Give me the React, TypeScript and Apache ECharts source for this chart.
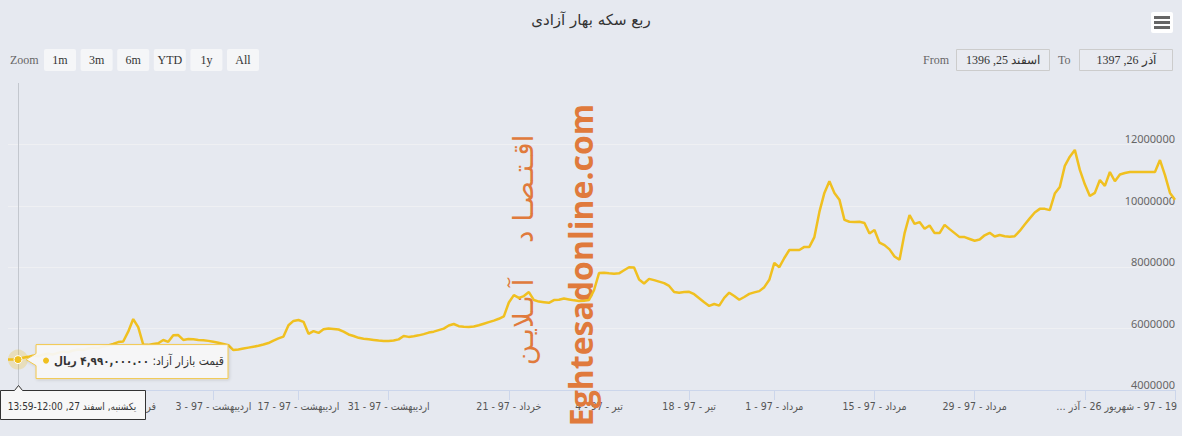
import React, { useEffect, useRef } from "react";
import * as echarts from "echarts";

const TITLE = "ربع سکه بهار آزادی";
const BG = "#e6e9f0";
const LINE = "#f0c020";

// Free-market price (rials), one value per trading day (ordinal axis)
const prices = [
  4990000, 4990000,
  4990000, 5050000, 5080000, 5120000, 5100000, 5150000, 5180000, 5160000, 5210000, 5250000,
  5230000, 5290000, 5320000, 5300000, 5350000, 5380000, 5360000, 5420000, 5450000, 5500000,
  5560000, 5580000, 5900000, 6310000, 6050000, 5480000, 5470000, 5500000, 5520000, 5630000,
  5570000, 5780000, 5790000, 5630000, 5660000, 5650000, 5630000, 5620000, 5600000, 5570000,
  5540000, 5500000, 5460000, 5300000, 5320000, 5350000, 5380000, 5410000, 5440000, 5480000,
  5530000, 5610000, 5680000, 5740000, 6110000, 6250000, 6280000, 6220000, 5830000, 5920000,
  5860000, 5980000, 6000000, 5990000, 5970000, 5900000, 5810000, 5760000, 5700000, 5670000,
  5650000, 5630000, 5610000, 5600000, 5600000, 5610000, 5650000, 5760000, 5730000, 5750000,
  5780000, 5820000, 5870000, 5900000, 5950000, 6000000, 6100000, 6150000, 6080000, 6060000,
  6050000, 6070000, 6110000, 6160000, 6210000, 6260000, 6320000, 6400000, 6850000, 7090000,
  7000000, 7060000, 7190000, 6930000, 6880000, 6860000, 6840000, 6930000, 6940000, 6980000,
  6950000, 6920000, 6900000, 6910000, 6930000, 7250000, 7810000, 7820000, 7800000, 7790000,
  7800000, 7900000, 8000000, 7990000, 7600000, 7470000, 7620000, 7580000, 7530000, 7480000,
  7390000, 7190000, 7170000, 7190000, 7200000, 7120000, 6990000, 6860000, 6740000, 6800000,
  6750000, 7000000, 7170000, 7060000, 6940000, 7030000, 7130000, 7180000, 7220000, 7350000,
  7590000, 8140000, 8000000, 8300000, 8560000, 8560000, 8560000, 8660000, 8660000, 8980000,
  9800000, 10420000, 10800000, 10420000, 10200000, 9540000, 9480000, 9470000, 9480000, 9440000,
  9100000, 9210000, 8800000, 8720000, 8580000, 8350000, 8240000, 9100000, 9700000, 9410000,
  9470000, 9250000, 9360000, 9110000, 9110000, 9380000, 9240000, 9110000, 8980000, 8980000,
  8920000, 8860000, 8900000, 9040000, 9120000, 9000000, 9050000, 9010000, 8990000, 9010000,
  9180000, 9390000, 9590000, 9780000, 9900000, 9900000, 9860000, 10400000, 10610000, 11300000,
  11600000, 11820000, 11170000, 10700000, 10320000, 10420000, 10840000, 10650000, 11100000, 10800000,
  11020000, 11070000, 11100000, 11100000, 11100000, 11100000, 11100000, 11100000, 11490000, 11000000,
  10420000, 10200000,
];

const tickIndices = [22, 41, 58, 76, 100, 118, 136, 153, 173, 193, 215, 233];
const tickLabels = [
  "فروردین - 97 - 20",
  "اردیبهشت - 97 - 3",
  "اردیبهشت - 97 - 17",
  "اردیبهشت - 97 - 31",
  "خرداد - 97 - 21",
  "تیر - 97 - 4",
  "تیر - 97 - 18",
  "مرداد - 97 - 1",
  "مرداد - 97 - 15",
  "مرداد - 97 - 29",
  "",
  "\u200F19 - 97 - شهریور 26 - آذر …\u200F",
];

const yMin = 4000000;
const yMax = 14000000;
const yStep = 2000000;

const zoomButtons = ["1m", "3m", "6m", "YTD", "1y", "All"];
const fromDate = "اسفند 25, 1396";
const toDate = "آذر 26, 1397";
const hoverIndex = 2;
const tooltipName = "\u200Fقیمت بازار آزاد:\u200F";
const tooltipValue = "\u200F۴,۹۹۰,۰۰۰.۰۰ ریال";
const tooltipDate = "یکشنبه, اسفند 27, 12:00-13:59";
const watermarkLatin = "Eghtesadonline.com";
const watermarkPersian = "اقـتـصـا د    آ نـلایـن";

const AX_FONT = "DejaVu Sans Condensed";

export default function App() {
  const ref = useRef<HTMLDivElement>(null);
  useEffect(() => {
    document.body.style.margin = "0";
    const chart = echarts.init(ref.current!, null, { renderer: "svg" });
    const categories = prices.map((_, i) => String(i));
    const labelMap = new Map<number, string>();
    tickIndices.forEach((t, k) => labelMap.set(t, tickLabels[k]));
    const lastIdx = tickIndices[tickIndices.length - 1];
    const gridTop = 83;
    const gridBottomY = 390;

    chart.setOption({
      animation: false,
      backgroundColor: BG,
      title: {
        text: TITLE,
        left: "center",
        top: 7,
        textStyle: { fontFamily: "DejaVu Sans", fontSize: 15, fontWeight: "normal", color: "#333" },
      },
      grid: { left: 8, right: 7, top: gridTop, bottom: 436 - gridBottomY, outerBoundsMode: "none" },
      xAxis: {
        type: "category",
        data: categories,
        boundaryGap: false,
        axisLine: { lineStyle: { color: "#ccd6eb", width: 1 } },
        axisTick: {
          length: 10,
          interval: (i: number) => labelMap.has(i),
          lineStyle: { color: "#ccd6eb" },
        },
        axisLabel: {
          interval: (i: number) => labelMap.has(i) && i !== lastIdx,
          formatter: (v: string) => labelMap.get(Number(v)) ?? "",
          margin: 10,
          fontFamily: AX_FONT,
          fontSize: 10.5,
          color: "#555",
        },
        splitLine: { show: false },
      },
      yAxis: {
        type: "value",
        position: "right",
        min: yMin,
        max: yMax,
        interval: yStep,
        axisLine: { show: false },
        axisTick: { show: false },
        axisLabel: {
          inside: true,
          align: "right",
          verticalAlign: "bottom",
          margin: 0,
          fontFamily: "Noto Sans",
          fontSize: 11,
          color: "#666",
          formatter: (v: number) => (v >= yMax ? "" : String(v)),
        },
        splitLine: {
          lineStyle: {
            color: ["#e6e6e6", "#eff0f3", "#eff0f3", "#eff0f3", "#eff0f3", "rgba(0,0,0,0)"],
            width: 1,
          },
        },
      },
      series: [
        {
          type: "line",
          data: prices,
          symbol: "none",
          z: 3,
          lineStyle: { color: LINE, width: 2.5 },
        },
      ],
    });

    const [px, py] = chart.convertToPixel({ seriesIndex: 0 }, [hoverIndex, prices[hoverIndex]]) as number[];
    const lastX = chart.convertToPixel({ xAxisIndex: 0 }, lastIdx) as number;
    const cx = Math.round(px) + 0.5;

    const serif = "Liberation Serif";
    const g: any[] = [];

    // watermarks
    g.push({
      type: "text", x: 580, y: 265, rotation: Math.PI / 2, z: 1,
      style: { text: watermarkLatin, fill: "#e07a3c", fontFamily: "Open Sans", fontWeight: "bold", fontSize: 32, align: "center", verticalAlign: "middle" },
    });
    g.push({
      type: "text", x: 523, y: 250, rotation: Math.PI / 2, z: 1,
      style: { text: watermarkPersian, fill: "#e07a3c", fontFamily: "DejaVu Sans", fontSize: 28, align: "center", verticalAlign: "middle" },
    });

    // range selector
    g.push({ type: "text", x: 10, y: 60, z: 10, style: { text: "Zoom", fill: "#666", fontFamily: serif, fontSize: 12, verticalAlign: "middle" } });
    zoomButtons.forEach((b, k) => {
      const bx = 44 + k * 36.6;
      g.push({ type: "rect", z: 10, shape: { x: bx, y: 49, width: 32, height: 22, r: 2 }, style: { fill: "#f5f6f8", stroke: "none" } });
      g.push({ type: "text", z: 11, x: bx + 16, y: 60, style: { text: b, fill: "#333", fontFamily: serif, fontSize: 12, align: "center", verticalAlign: "middle" } });
    });
    g.push({ type: "text", x: 923, y: 60, z: 10, style: { text: "From", fill: "#666", fontFamily: serif, fontSize: 12, verticalAlign: "middle" } });
    g.push({ type: "rect", z: 10, shape: { x: 956.5, y: 49.5, width: 93, height: 21 }, style: { fill: "rgba(255,255,255,0.12)", stroke: "#cccccc", lineWidth: 1 } });
    g.push({ type: "text", z: 11, x: 1003, y: 60, style: { text: fromDate, fill: "#333", fontFamily: serif, fontSize: 12, align: "center", verticalAlign: "middle" } });
    g.push({ type: "text", x: 1058, y: 60, z: 10, style: { text: "To", fill: "#666", fontFamily: serif, fontSize: 12, verticalAlign: "middle" } });
    g.push({ type: "rect", z: 10, shape: { x: 1079.5, y: 49.5, width: 93, height: 21 }, style: { fill: "rgba(255,255,255,0.12)", stroke: "#cccccc", lineWidth: 1 } });
    g.push({ type: "text", z: 11, x: 1126, y: 60, style: { text: toDate, fill: "#333", fontFamily: serif, fontSize: 12, align: "center", verticalAlign: "middle" } });

    // context menu button
    g.push({ type: "rect", z: 10, shape: { x: 1151, y: 12, width: 22, height: 21, r: 2 }, style: { fill: "#ffffff" } });
    [16, 21, 26].forEach((yy) => {
      g.push({ type: "rect", z: 11, shape: { x: 1154, y: yy, width: 16, height: 3 }, style: { fill: "#666" } });
    });

    // last x label (right aligned at plot end)
    g.push({
      type: "text", z: 5, x: lastX + 2, y: 406,
      style: { text: tickLabels[tickLabels.length - 1], fill: "#555", fontFamily: AX_FONT, fontSize: 10.5, align: "right", verticalAlign: "middle" },
    });

    // crosshair
    g.push({ type: "line", z: 4, shape: { x1: cx, y1: gridTop, x2: cx, y2: gridBottomY }, style: { stroke: "#c3c7ce", lineWidth: 1 } });

    // marker & halo
    g.push({ type: "circle", z: 20, shape: { cx: px, cy: py, r: 10 }, style: { fill: "rgba(240,192,32,0.25)" } });
    g.push({ type: "circle", z: 21, shape: { cx: px, cy: py, r: 4 }, style: { fill: LINE, stroke: "#fff", lineWidth: 1 } });

    // tooltip
    const tx = px + 18;
    const ty = py - 15;
    g.push({
      type: "polygon", z: 22,
      shape: { points: [[tx, ty], [tx + 192, ty], [tx + 192, ty + 34], [tx, ty + 34], [tx, py + 6], [px + 8, py], [tx, py - 6]] },
      style: { fill: "rgba(248,248,248,0.92)", stroke: "#f2c84b", lineWidth: 1, shadowBlur: 3, shadowOffsetX: 1, shadowOffsetY: 1, shadowColor: "rgba(0,0,0,0.15)" },
    });
    g.push({ type: "circle", z: 23, shape: { cx: tx + 10, cy: py + 1, r: 3 }, style: { fill: LINE } });
    g.push({
      type: "text", z: 23, x: tx + 18, y: py + 1,
      style: {
        text: `{b|${tooltipValue}} {n|${tooltipName}}`,
        verticalAlign: "middle",
        rich: {
          b: { fontFamily: AX_FONT, fontSize: 11.5, fontWeight: "bold", fill: "#333" },
          n: { fontFamily: AX_FONT, fontSize: 12, fill: "#333" },
        },
        fontFamily: AX_FONT, fontSize: 12, fill: "#333",
      },
    });

    // x crosshair date label
    const dy = gridBottomY + 0.5;
    g.push({
      type: "polygon", z: 22,
      shape: { points: [[0.5, dy], [cx - 4, dy], [cx, dy - 5], [cx + 4, dy], [145.5, dy], [145.5, dy + 29], [0.5, dy + 29]] },
      style: { fill: "#f7f7f7", stroke: "#333", lineWidth: 1 },
    });
    g.push({ type: "text", z: 23, x: 72, y: 406, style: { text: tooltipDate, fill: "#333", fontFamily: AX_FONT, fontSize: 10, align: "center", verticalAlign: "middle" } });

    chart.setOption({ graphic: { elements: g } });

    return () => chart.dispose();
  }, []);

  return <div ref={ref} style={{ width: 1182, height: 436 }} />;
}
